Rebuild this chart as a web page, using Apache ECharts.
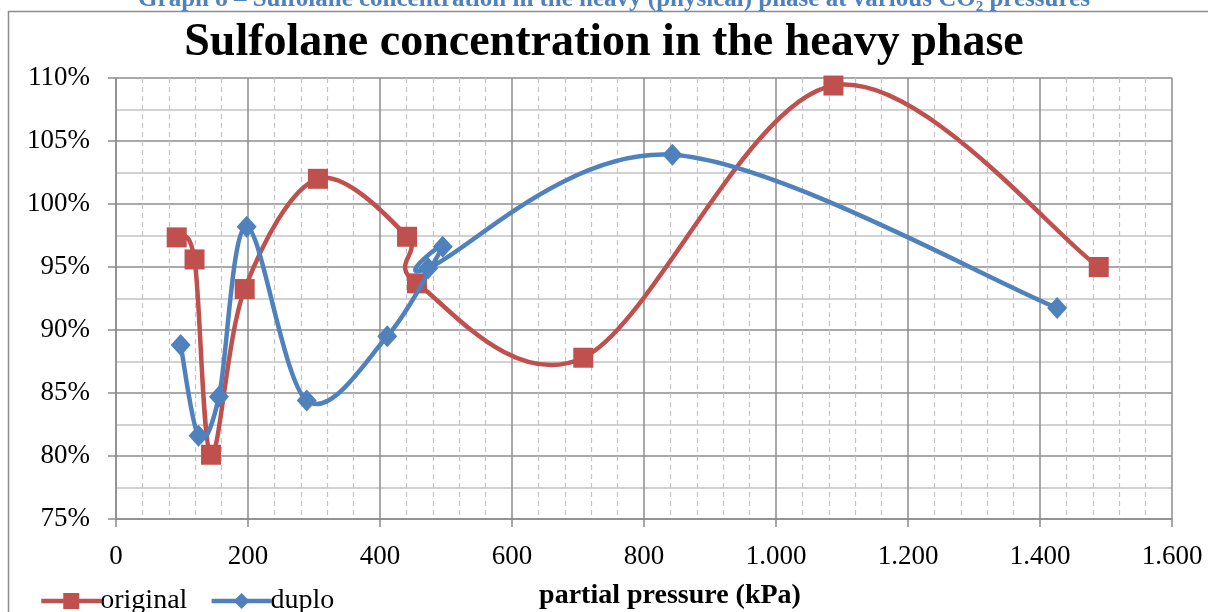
<!DOCTYPE html>
<html>
<head>
<meta charset="utf-8">
<script src="https://cdn.jsdelivr.net/npm/echarts@6/dist/echarts.min.js"></script>
<style>
html,body{margin:0;padding:0;background:#fff;}
#chart{width:1208px;height:612px;}
</style>
</head>
<body>
<div id="chart"></div>
<script>
// Data (x = partial pressure kPa, y = concentration %)
const originalX = [92, 119, 144, 195, 306, 441, 456, 708, 1087, 1489];
const originalY = [97.35, 95.6, 80.1, 93.25, 102.0, 97.4, 93.7, 87.8, 109.4, 95.0];
const duploX = [98, 125, 156, 198, 289, 411, 495, 473, 843, 1426];
const duploY = [88.8, 81.6, 84.7, 98.2, 84.4, 89.5, 96.6, 94.9, 103.9, 91.75];
const seriesNames = ['original', 'duplo'];
const chartTitle = 'Sulfolane concentration in the heavy phase';
const caption = 'Graph 8 \u2013 Sulfolane concentration in the heavy (physical) phase at various CO\u2082 pressures';
const xAxisName = 'partial pressure (kPa)';

const RED = '#C0504D', BLUE = '#4F81BD';
const LW = 4.5;
const zip = (xs, ys) => xs.map((x, i) => [x, ys[i]]);
const serif = '"Liberation Serif", "DejaVu Serif", serif';

// Smoothed curve (Catmull-Rom style, like spreadsheet "smoothed line") drawn through axis coordinates
function smoothCurve(xs, ys, color) {
  return function (params, api) {
    if (params.dataIndex !== 0) return null;
    const p = xs.map((x, i) => api.coord([x, ys[i]]));
    const n = p.length;
    let d = 'M' + p[0][0] + ' ' + p[0][1];
    for (let i = 0; i < n - 1; i++) {
      const p0 = p[Math.max(i - 1, 0)], p1 = p[i], p2 = p[i + 1], p3 = p[Math.min(i + 2, n - 1)];
      const c1 = [p1[0] + (p2[0] - p0[0]) / 6, p1[1] + (p2[1] - p0[1]) / 6];
      const c2 = [p2[0] - (p3[0] - p1[0]) / 6, p2[1] - (p3[1] - p1[1]) / 6];
      d += ' C' + c1[0] + ' ' + c1[1] + ' ' + c2[0] + ' ' + c2[1] + ' ' + p2[0] + ' ' + p2[1];
    }
    return {
      type: 'path',
      shape: {pathData: d},
      style: {fill: 'none', stroke: color, lineWidth: LW, lineJoin: 'round', lineCap: 'round'},
      silent: true
    };
  };
}

const chart = echarts.init(document.getElementById('chart'), null, {renderer: 'canvas'});
chart.setOption({
  backgroundColor: '#ffffff',
  animation: false,
  title: {
    text: chartTitle,
    left: 'center',
    top: 15,
    textStyle: {fontFamily: serif, fontWeight: 'bold', fontSize: 46, color: '#000'}
  },
  graphic: [
    {type: 'rect', shape: {x: 8.5, y: 11.5, width: 1400, height: 800},
     style: {fill: 'none', stroke: '#8c8c8c', lineWidth: 1.5}, silent: true},
    {type: 'text', x: 614, y: 12,
     style: {text: caption, fill: BLUE, font: 'bold 25px ' + serif, textAlign: 'center', textVerticalAlign: 'bottom'}}
  ],
  legend: {
    data: [
      {name: seriesNames[0], lineStyle: {color: RED, width: LW, opacity: 1}},
      {name: seriesNames[1], lineStyle: {color: BLUE, width: LW, opacity: 1}}
    ],
    left: 34,
    top: 582,
    itemWidth: 60,
    itemHeight: 20,
    itemGap: 22,
    textStyle: {fontFamily: serif, fontSize: 28, color: '#000', padding: [0, 0, 0, -6]}
  },
  grid: {left: 116, right: 36, top: 78, bottom: 93, containLabel: false, outerBoundsMode: 'none'},
  xAxis: {
    type: 'value',
    min: 0, max: 1600, interval: 200,
    name: xAxisName,
    nameLocation: 'middle',
    nameGap: 63,
    nameTextStyle: {fontFamily: serif, fontWeight: 'bold', fontSize: 28, color: '#000', padding: [0, 0, 0, 52]},
    axisLine: {show: true, lineStyle: {color: '#8c8c8c', width: 1.5}},
    axisTick: {show: true, length: 8, lineStyle: {color: '#8c8c8c', width: 1.5}},
    axisLabel: {
      margin: 24,
      fontFamily: serif, fontSize: 27, color: '#000',
      formatter: v => String(v).replace(/\B(?=(\d{3})+(?!\d))/g, '.')
    },
    splitLine: {show: true, lineStyle: {color: '#8c8c8c', width: 1.5}},
    minorTick: {show: false, splitNumber: 5},
    minorSplitLine: {show: true, lineStyle: {color: '#c4c4c4', width: 1.2, type: [5, 4]}}
  },
  yAxis: {
    type: 'value',
    min: 75, max: 110, interval: 5,
    axisLine: {show: true, lineStyle: {color: '#8c8c8c', width: 1.5}},
    axisTick: {show: true, length: 8, lineStyle: {color: '#8c8c8c', width: 1.5}},
    axisLabel: {margin: 26, fontFamily: serif, fontSize: 27, color: '#000', formatter: '{value}%'},
    splitLine: {show: true, lineStyle: {color: '#8c8c8c', width: 1.5}},
    minorTick: {show: false, splitNumber: 2},
    minorSplitLine: {show: true, lineStyle: {color: '#c4c4c4', width: 1.5}}
  },
  series: [
    {
      name: seriesNames[0] + '-curve', type: 'custom', z: 2,
      data: zip(originalX, originalY),
      renderItem: smoothCurve(originalX, originalY, RED)
    },
    {
      name: seriesNames[0], type: 'line', z: 3,
      data: zip(originalX, originalY),
      symbol: 'rect', symbolSize: 20,
      lineStyle: {color: RED, width: 0, opacity: 0},
      itemStyle: {color: RED}
    },
    {
      name: seriesNames[1] + '-curve', type: 'custom', z: 4,
      data: zip(duploX, duploY),
      renderItem: smoothCurve(duploX, duploY, BLUE)
    },
    {
      name: seriesNames[1], type: 'line', z: 5,
      data: zip(duploX, duploY),
      symbol: 'diamond', symbolSize: [20, 22],
      lineStyle: {color: BLUE, width: 0, opacity: 0},
      itemStyle: {color: BLUE}
    }
  ]
});
</script>
</body>
</html>
